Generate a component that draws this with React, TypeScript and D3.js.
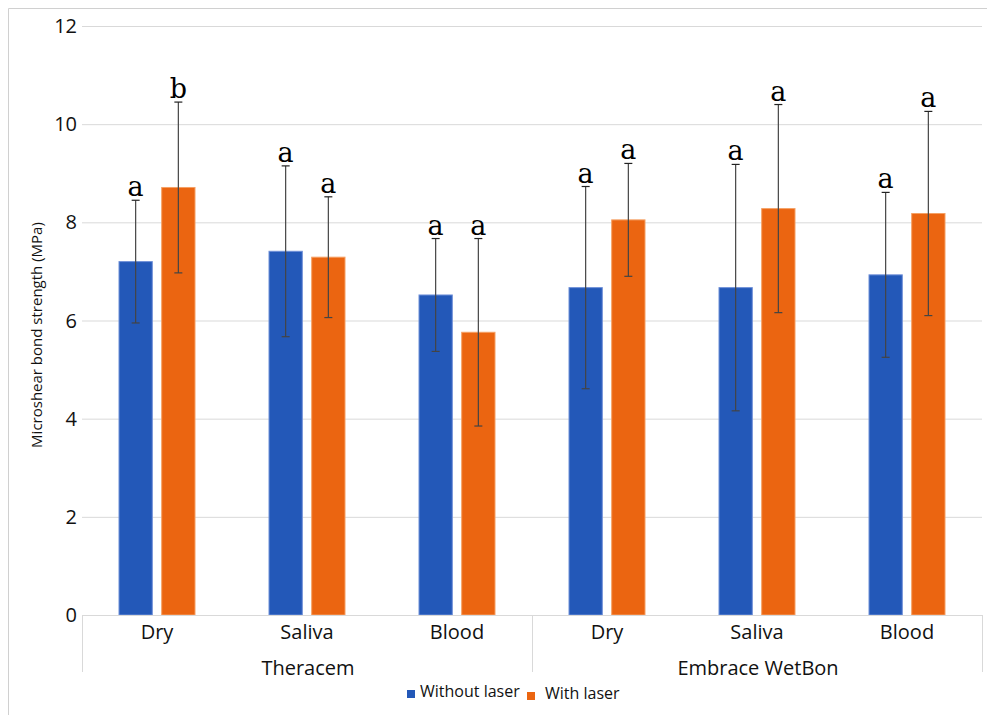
import React from "react";
import * as d3 from "d3";

const groups = ["Theracem", "Embrace WetBon"];
const conditions = ["Dry", "Saliva", "Blood"];
const series = ["Without laser", "With laser"];
const withoutLaser = [7.2, 7.41, 6.52, 6.67, 6.67, 6.93];
const withLaser = [8.71, 7.29, 5.76, 8.05, 8.28, 8.18];
const errWithout = [1.25, 1.74, 1.15, 2.06, 2.51, 1.68];
const errWith = [1.74, 1.23, 1.91, 1.15, 2.12, 2.08];
const lettersWithout = ["a", "a", "a", "a", "a", "a"];
const lettersWith = ["b", "a", "a", "a", "a", "a"];
const yTicks = [0, 2, 4, 6, 8, 10, 12];

const W = 987;
const H = 715;
const colors = ["#2358B8", "#EB6511"];
const strokes = ["#6f90d8", "#f5a064"];

export default function App() {
  const left = 82, right = 982, top = 26, bottom = 615;
  const y = d3.scaleLinear().domain([0, 12]).range([bottom, top]);
  const cats = d3.range(6).map(String);
  const x = d3.scaleBand().domain(cats).range([left, right]).padding(0);
  const values = [withoutLaser, withLaser];
  const errs = [errWithout, errWith];
  const letters = [lettersWithout, lettersWith];
  const sans = "'Open Sans', 'Noto Sans', sans-serif";
  const cap = 4;

  return (
    <svg width={W} height={H} style={{ position: "absolute", left: 0, top: 0 }}>
      <rect x={0} y={0} width={W} height={H} fill="#fff" />
      <line x1={8.5} y1={8.5} x2={W} y2={8.5} stroke="#d0d0d0" />
      <line x1={8.5} y1={8.5} x2={8.5} y2={H} stroke="#d0d0d0" />
      {yTicks.map((t) => (
        <g key={t}>
          {t > 0 && (
            <line x1={left} x2={right} y1={y(t) + 0.5} y2={y(t) + 0.5} stroke="#d9d9d9" />
          )}
          <text x={77} y={y(t) + 7} textAnchor="end" fontFamily={sans} fontSize={20} fill="#111">
            {t}
          </text>
        </g>
      ))}
      <text
        transform={`translate(42,335) rotate(-90)`}
        textAnchor="middle"
        fontFamily={sans}
        fontSize={15}
        fill="#111"
      >
        Microshear bond strength (MPa)
      </text>
      {cats.map((c, i) => {
        const cx = (x(c) as number) + x.bandwidth() / 2;
        const inner = d3.scaleBand().domain(series).range([cx - 38, cx + 38]).paddingInner(0.22);
        return (
          <g key={c}>
            {series.map((s, si) => {
              const v = values[si][i];
              const e = errs[si][i];
              const bx = inner(s) as number;
              const bw = inner.bandwidth();
              const mx = bx + bw / 2;
              return (
                <g key={s}>
                  <rect
                    x={bx}
                    y={y(v)}
                    width={bw}
                    height={bottom - y(v)}
                    fill={colors[si]}
                    stroke={strokes[si]}
                    strokeWidth={1}
                  />
                  <line x1={mx} x2={mx} y1={y(v + e)} y2={y(v - e)} stroke="#444" strokeWidth={1.2} />
                  <line x1={mx - cap} x2={mx + cap} y1={y(v + e)} y2={y(v + e)} stroke="#222" strokeWidth={1.2} />
                  <line x1={mx - cap} x2={mx + cap} y1={y(v - e)} y2={y(v - e)} stroke="#444" strokeWidth={1.2} />
                  <text
                    x={mx}
                    y={y(v + e) - 4}
                    textAnchor="middle"
                    fontFamily="'DejaVu Serif', serif"
                    fontSize={27}
                    fill="#000"
                  >
                    {letters[si][i]}
                  </text>
                </g>
              );
            })}
            <text x={cx} y={639} textAnchor="middle" fontFamily={sans} fontSize={20} fill="#111">
              {conditions[i % 3]}
            </text>
          </g>
        );
      })}
      <line x1={left} x2={right} y1={bottom + 0.5} y2={bottom + 0.5} stroke="#d9d9d9" />
      {[0, 3, 6].map((k) => {
        const xx = k === 6 ? right : (x(String(k)) as number);
        return <line key={k} x1={xx + 0.5} x2={xx + 0.5} y1={bottom} y2={672} stroke="#d9d9d9" />;
      })}
      {groups.map((g, gi) => {
        const x0 = x(String(gi * 3)) as number;
        const cx = x0 + x.bandwidth() * 1.5;
        return (
          <text key={g} x={cx + 1} y={675} textAnchor="middle" fontFamily={sans} fontSize={20} fill="#111">
            {g}
          </text>
        );
      })}
      <g fontFamily={sans} fontSize={16} fill="#111">
        <rect x={407} y={690} width={8} height={8} fill={colors[0]} />
        <text x={420} y={697}>{series[0]}</text>
        <rect x={527} y={692} width={8} height={8} fill={colors[1]} />
        <text x={545} y={699}>{series[1]}</text>
      </g>
    </svg>
  );
}
